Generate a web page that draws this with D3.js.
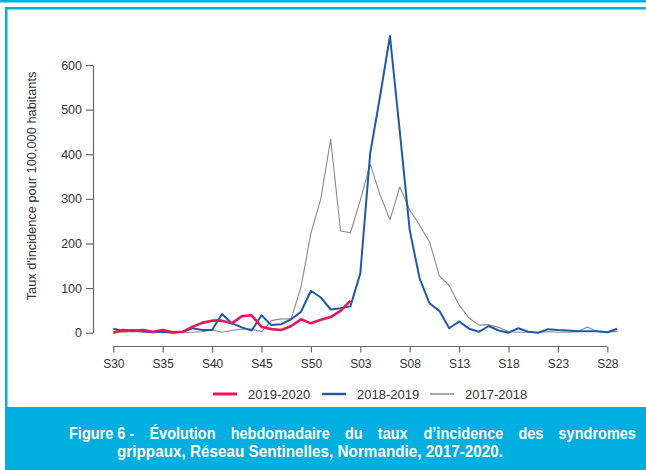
<!DOCTYPE html>
<html><head><meta charset="utf-8">
<script src="https://cdn.jsdelivr.net/npm/d3@7"></script>
<style>
html,body{margin:0;padding:0;background:#fff;}
svg{display:block;}
</style></head>
<body>
<svg id="c" width="646" height="470"></svg>
<script>
const weeks = ["S30","S31","S32","S33","S34","S35","S36","S37","S38","S39","S40","S41","S42","S43","S44","S45","S46","S47","S48","S49","S50","S51","S52",
  "S01","S02","S03","S04","S05","S06","S07","S08","S09","S10","S11","S12","S13","S14","S15","S16","S17","S18","S19","S20","S21","S22","S23","S24","S25","S26","S27","S28","S29"];
const tickWeeks = ["S30","S35","S40","S45","S50","S03","S08","S13","S18","S23","S28"];
const yTicks = [0,100,200,300,400,500,600];
const s2019_2020 = [0,6,4,6,2,6,1,2,13,22,27,27,21,37,39,13,8,6,15,30,21,29,35,49,72];
const s2018_2019 = [9,4,6,3,1,2,0,2,10,6,6,42,21,12,5,39,17,19,30,47,94,79,52,55,59,133,402,530,665,450,230,122,66,49,10,25,9,2,15,5,0,10,2,0,8,6,5,3,3,3,1,9];
const s2017_2018 = [2,1,3,1,0,1,2,0,1,2,6,1,5,8,8,2,27,31,31,103,223,300,434,228,224,297,378,309,253,327,275,241,204,127,106,62,33,17,18,12,2,1,1,1,2,1,1,2,13,2,1,3];
const seriesNames = ["2019-2020","2018-2019","2017-2018"];
const seriesColors = ["#e8175d","#1f5aa6","#8a8a8a"];
const seriesWidths = [2.6,2,1.1];
const caption1 = ["Figure 6 -","Évolution","hebdomadaire","du","taux","d’incidence","des","syndromes"];
const caption2 = "grippaux, Réseau Sentinelles, Normandie, 2017-2020.";
const yTitle = "Taux d'incidence pour 100,000 habitants";

const svg = d3.select("#c");
const cyan = "#00aee0";
// frame
svg.append("rect").attr("x",0).attr("y",0).attr("width",646).attr("height",2.5).attr("fill",cyan);
svg.append("rect").attr("x",5).attr("y",7).attr("width",641).attr("height",2.5).attr("fill",cyan);
svg.append("rect").attr("x",5).attr("y",7).attr("width",2.5).attr("height",400).attr("fill",cyan);
svg.append("rect").attr("x",5).attr("y",407).attr("width",641).attr("height",63).attr("fill",cyan);

const x = d3.scalePoint().domain(weeks).range([113.3, 617.2]);
const y = d3.scaleLinear().domain([0,600]).range([332.7, 65]);
const font = "'Liberation Sans', Arial, Helvetica, sans-serif";
const axisColor = "#666";

// y axis
const ya = svg.append("g").attr("transform","translate(93,0)")
  .call(d3.axisLeft(y).tickValues(yTicks).tickSize(7).tickSizeOuter(0).tickPadding(4));
ya.select(".domain").attr("stroke",axisColor).attr("stroke-width",1.2);
ya.selectAll(".tick line").attr("stroke",axisColor).attr("stroke-width",1.2);
ya.selectAll(".tick text").attr("font-family",font).attr("font-size",12.5).attr("fill","#333");

// x axis
const xa = svg.append("g").attr("transform","translate(0,346.5)")
  .call(d3.axisBottom(x).tickValues(tickWeeks).tickSize(6).tickPadding(7));
xa.select(".domain").remove();
xa.append("line").attr("x1",x(tickWeeks[0])).attr("x2",x(tickWeeks[tickWeeks.length-1]))
  .attr("stroke",axisColor).attr("stroke-width",1.2);
xa.selectAll(".tick line").attr("stroke",axisColor).attr("stroke-width",1.2);
xa.selectAll(".tick text").attr("font-family",font).attr("font-size",12).attr("fill","#333");

// y title
svg.append("text").attr("transform","translate(36,186) rotate(-90)")
  .attr("text-anchor","middle").attr("font-family",font).attr("font-size",12.8).attr("fill","#333")
  .text(yTitle);

// lines
const data = [s2019_2020, s2018_2019, s2017_2018];
const line = d3.line().x((d,i)=>x(weeks[i])).y(d=>y(d));
[2,1,0].forEach(k=>{
  svg.append("path").datum(data[k]).attr("d",line).attr("fill","none")
    .attr("stroke",seriesColors[k]).attr("stroke-width",seriesWidths[k]).attr("stroke-linejoin","round");
});

// legend
const legX = [213, 322, 430];
seriesNames.forEach((n,k)=>{
  svg.append("line").attr("x1",legX[k]).attr("x2",legX[k]+24).attr("y1",394).attr("y2",394)
    .attr("stroke",seriesColors[k]).attr("stroke-width",seriesWidths[k]+0.4);
  svg.append("text").attr("x",legX[k]+35).attr("y",398.5).attr("font-family",font).attr("font-size",13)
    .attr("fill","#333").text(n);
});

// caption (narrow bold: Liberation Sans bold compressed horizontally)
const cfont = "'Liberation Sans', Arial, sans-serif";
const squeeze = 0.88;
const csize = 16.5;
const words = caption1.map(w=>svg.append("text").attr("x",0).attr("y",0).attr("font-family",cfont).attr("font-weight","bold")
  .attr("font-size",csize).attr("fill","#fff").text(w));
const widths = words.map(t=>t.node().getBBox().width*squeeze);
const x0 = 69, x1 = 636;
const gap = (x1-x0-d3.sum(widths))/(words.length-1);
let cx = x0;
words.forEach((t,i)=>{ t.attr("transform",`translate(${cx},439) scale(${squeeze},1)`); cx += widths[i]+gap; });
svg.append("text").attr("x",117).attr("y",456.5).attr("font-family",cfont).attr("font-weight","bold")
  .attr("font-size",csize).attr("fill","#fff").attr("textLength",386).attr("lengthAdjust","spacingAndGlyphs").text(caption2);
</script>
</body></html>
